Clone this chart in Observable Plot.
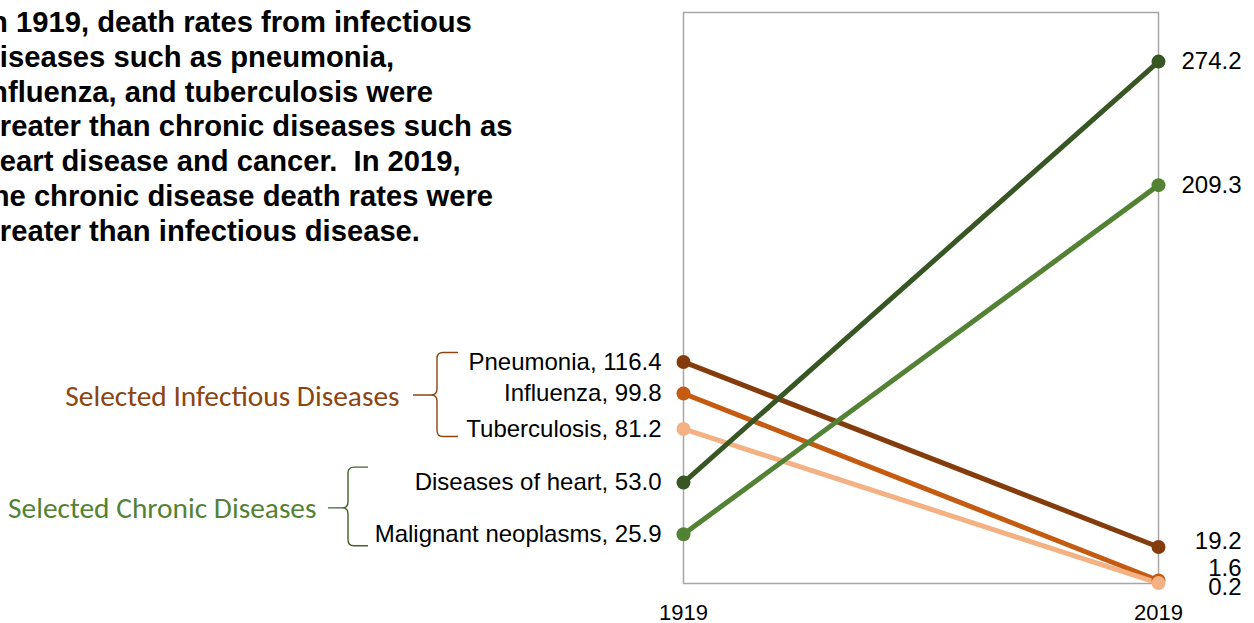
<!DOCTYPE html>
<html>
<head>
<meta charset="utf-8">
<script src="https://cdn.jsdelivr.net/npm/d3@7"></script>
<script src="https://cdn.jsdelivr.net/npm/@observablehq/plot@0.6"></script>
<style>
  html, body { margin: 0; padding: 0; background: #fff; }
  #wrap { position: relative; width: 1254px; height: 623px; overflow: hidden; }
  #title {
    position: absolute; left: -18px; top: 5px;
    font-family: "Liberation Sans", Arial, sans-serif; font-weight: bold;
    font-size: 29.2px; line-height: 34.8px; color: #000; white-space: nowrap;
  }
  #chart { position: absolute; left: 0; top: 0; }
</style>
</head>
<body>
<div id="wrap">
  <div id="chart"></div>
  <div id="title">In 1919, death rates from infectious<br>diseases such as pneumonia,<br>influenza, and tuberculosis were<br>greater than chronic diseases such as<br>heart disease and cancer.&nbsp; In 2019,<br>the chronic disease death rates were<br>greater than infectious disease.</div>
</div>
<script>
const years = [1919, 2019];
const series = ["Pneumonia", "Influenza", "Tuberculosis", "Diseases of heart", "Malignant neoplasms"];
const seriesGroup = ["Selected Infectious Diseases", "Selected Infectious Diseases", "Selected Infectious Diseases", "Selected Chronic Diseases", "Selected Chronic Diseases"];
const rate1919 = [116.4, 99.8, 81.2, 53.0, 25.9];
const rate2019 = [19.2, 1.6, 0.2, 274.2, 209.3];
const colors = ["#843C0C", "#C55A11", "#F4B183", "#375623", "#548235"];
const groupNames = ["Selected Infectious Diseases", "Selected Chronic Diseases"];
const groupColors = ["#8B4513", "#548235"];

// layout-only nudges for crowded right-hand labels (pixels)
const rightLabelDy = {"Pneumonia": -6, "Influenza": -12, "Tuberculosis": 4, "Diseases of heart": 0, "Malignant neoplasms": 0};

const rows = series.flatMap((name, i) => [
  {name, group: seriesGroup[i], year: years[0], rate: rate1919[i]},
  {name, group: seriesGroup[i], year: years[1], rate: rate2019[i]}
]);
const left = rows.filter(d => d.year === years[0]);
const right = rows.filter(d => d.year === years[1]);
const groups = groupNames.map(g => {
  const v = left.filter(d => d.group === g).map(d => d.rate);
  return {group: g, year: years[0], rate: (d3.max(v) + d3.min(v)) / 2, max: d3.max(v), min: d3.min(v)};
});

const font = "'Liberation Sans', Arial, sans-serif";
const groupFont = "Carlito, Calibri, Lato, sans-serif";

const plot = Plot.plot({
  width: 1254,
  height: 623,
  marginLeft: 683,
  marginRight: 96,
  marginTop: 12,
  marginBottom: 40,
  style: {fontFamily: font, overflow: "visible", background: "transparent"},
  x: {domain: years, axis: null},
  y: {domain: [0, 300], axis: null},
  color: {domain: series, range: colors},
  marks: [
    Plot.frame({stroke: "#A6A6A6", strokeWidth: 1.5}),
    Plot.axisX({ticks: years, tickFormat: d => String(d), tickSize: 0, tickPadding: 21, fontSize: 22, fill: "#000", label: null}),
    ...series.map(s => Plot.line(rows.filter(d => d.name === s), {x: "year", y: "rate", stroke: "name", strokeWidth: 5})),
    ...series.map(s => Plot.dot(rows.filter(d => d.name === s), {x: "year", y: "rate", fill: "name", r: 7})),
    Plot.text(left, {x: "year", y: "rate", text: d => `${d.name}, ${d.rate.toFixed(1)}`, textAnchor: "end", dx: -22, fontSize: 24, fill: "#000"}),
    ...right.map(d => Plot.text([d], {x: "year", y: "rate", text: d => d.rate.toFixed(1), textAnchor: "end", dx: 83, dy: rightLabelDy[d.name], fontSize: 24, fill: "#000"})),
    Plot.text(groups.filter(g => g.group === groupNames[0]), {x: "year", y: "rate", text: "group", textAnchor: "end", dx: -284, dy: 1, fontSize: 29.4, fontFamily: groupFont, fill: groupColors[0]}),
    Plot.text(groups.filter(g => g.group === groupNames[1]), {x: "year", y: "rate", text: "group", textAnchor: "end", dx: -367, fontSize: 29.4, fontFamily: groupFont, fill: groupColors[1]})
  ]
});
document.getElementById("chart").appendChild(plot);

// curly braces, positioned from the plot's own scales
const ys = plot.scale("y").apply;
const xs = plot.scale("x").apply;
const x0 = xs(years[0]);
function bracePath(bx, arm, tip, top, bottom, mid) {
  const r = 6;
  return `M${arm},${top} H${bx + r} Q${bx},${top} ${bx},${top + r} V${mid - r} Q${bx},${mid} ${bx - r},${mid} H${tip} M${bx - r},${mid} Q${bx},${mid} ${bx},${mid + r} V${bottom - r} Q${bx},${bottom} ${bx + r},${bottom} H${arm}`;
}
const braceSpec = [
  {g: groups[0], bx: x0 - 246, arm: x0 - 225, tip: x0 - 270, padTop: 9, padBottom: 8, color: "#8B4513"},
  {g: groups[1], bx: x0 - 335, arm: x0 - 315, tip: x0 - 355, padTop: 15, padBottom: 12, color: "#3F6428"}
];
const svg = d3.select(plot);
for (const b of braceSpec) {
  const top = ys(b.g.max) - b.padTop;
  const bottom = ys(b.g.min) + b.padBottom;
  const mid = ys(b.g.rate);
  svg.append("path").attr("d", bracePath(b.bx, b.arm, b.tip, top, bottom, mid))
    .attr("fill", "none").attr("stroke", b.color).attr("stroke-width", 1.4);
}
</script>
</body>
</html>
